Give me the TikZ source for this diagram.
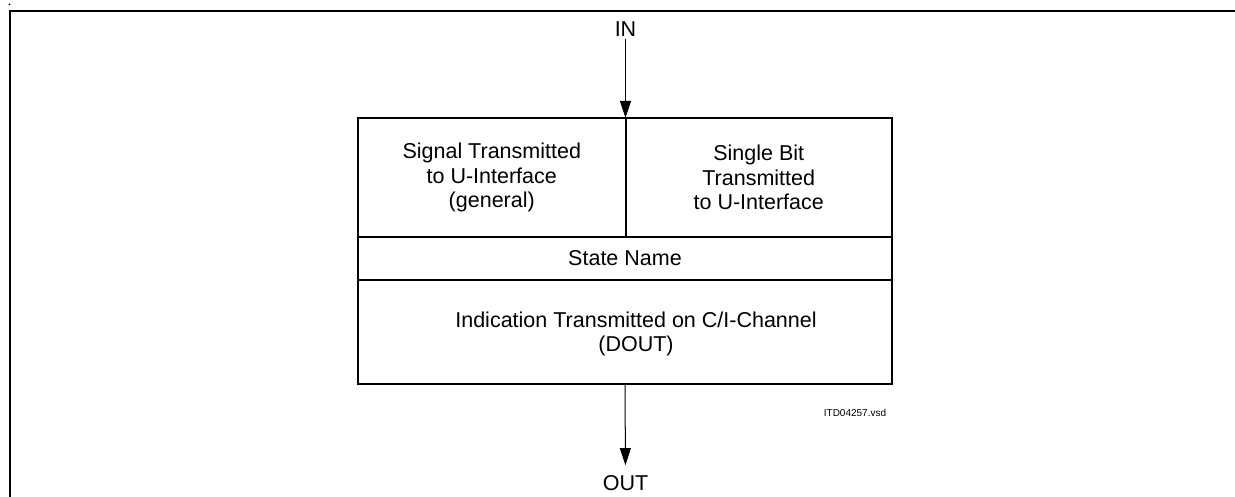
\documentclass[tikz,border=0pt]{standalone}
\usepackage{fontspec}
\setmainfont{Liberation Sans}
\usetikzlibrary{arrows.meta}
\begin{document}
\begin{tikzpicture}[x=1pt,y=-1pt,
  cell/.style={draw,line width=2pt,inner sep=0pt,outer sep=0pt},
  txt/.style={align=center,font=\fontsize{21.5}{24.5}\selectfont,inner sep=2pt},
  arr/.style={line width=1pt,-{Triangle[width=11pt,length=17pt]}},
  frame/.style={line width=2pt}]
\useasboundingbox (0,0) rectangle (1235,497);
% frame
\fill (9.5,4.5) circle (1pt);
\draw[frame] (1240,11) -- (10,11) -- (10,500);
% cells
\node[cell,minimum width=267.5pt,minimum height=119pt] (c1) at (491.75,177.5) {};
\node[cell,minimum width=266.5pt,minimum height=119pt] (c2) at (758.75,177.5) {};
\node[cell,minimum width=534pt,minimum height=43pt] (st) at (625,258.5) {};
\node[cell,minimum width=534pt,minimum height=104pt] (ind) at (625,332) {};
% texts
\node[txt] (t1) at (c1) {Signal Transmitted\\to U-Interface\\(general)};
\node[txt] (t2) at (c2) {Single Bit\\Transmitted\\to U-Interface};
\node[txt] (t3) at (st) {State Name};
\node[txt] (t4) at (636,334) {Indication Transmitted on C/I-Channel\\(DOUT)};
% in/out
\node[txt] (in) at (625.5,29) {IN};
\node[txt] (out) at (625.5,483) {OUT};
\coordinate (intop) at (625.5,118);
\draw[arr] (in.south) -- (intop);
\draw[arr,shorten >=8pt] (ind.south) -- (out.north);
\node[font=\fontsize{10}{12}\selectfont,inner sep=0pt] (id) at (855,412.5) {ITD04257.vsd};
\end{tikzpicture}
\end{document}
